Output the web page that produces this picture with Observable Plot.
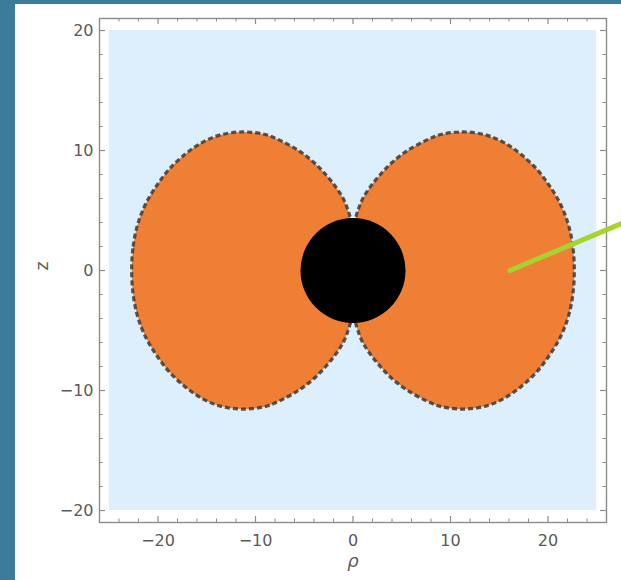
<!DOCTYPE html>
<html>
<head>
<meta charset="utf-8">
<script src="https://cdn.jsdelivr.net/npm/d3@7"></script>
<script src="https://cdn.jsdelivr.net/npm/@observablehq/plot@0.6"></script>
<style>
  html, body { margin: 0; padding: 0; background: #3d7b9a; width: 621px; height: 580px; overflow: hidden; }
  #panel { position: absolute; left: 15px; top: 4px; width: 606px; height: 576px; background: #ffffff; }
</style>
</head>
<body>
<div id="panel"></div>
<script>
// ---- data ----
const rhoDomain = [-26, 26];
const zDomain = [-21, 21];
const plotRangeRho = [-25, 25];
const plotRangeZ = [-20, 20];

const majorTicks = [-20, -10, 0, 10, 20];
const minorTicksRho = [-24, -22, -18, -16, -14, -12, -8, -6, -4, -2, 2, 4, 6, 8, 12, 14, 16, 18, 22, 24];
const minorTicksZ = [-18, -16, -14, -12, -8, -6, -4, -2, 2, 4, 6, 8, 12, 14, 16, 18];

// right lobe boundary (rho, z)
const rightLobe = [
  [22.7, 0], [22.55, 2.0], [22.1, 3.8], [21.3, 5.5], [20.2, 7.0], [18.9, 8.4], [17.2, 9.7],
  [15.4, 10.7], [13.6, 11.3], [11.3, 11.55], [9.1, 11.35], [7.9, 11.0], [5.6, 10.0], [4.0, 9.0],
  [2.8, 8.0], [1.8, 7.0], [1.0, 6.0], [0.5, 5.0], [0.15, 4.0], [-0.3, 2.2], [-0.5, 0],
  [-0.3, -2.2], [0.15, -4.0], [0.5, -5.0], [1.0, -6.0], [1.8, -7.0], [2.8, -8.0], [4.0, -9.0],
  [5.6, -10.0], [7.9, -11.0], [9.1, -11.35], [11.3, -11.55], [13.6, -11.3], [15.4, -10.7],
  [17.2, -9.7], [18.9, -8.4], [20.2, -7.0], [21.3, -5.5], [22.1, -3.8], [22.55, -2.0]
];
// left lobe boundary (rho, z)
const leftLobe = [
  [-22.7, 0], [-22.55, 2.0], [-22.1, 3.8], [-21.3, 5.5], [-20.2, 7.0], [-18.9, 8.4], [-17.2, 9.7],
  [-15.4, 10.7], [-13.6, 11.3], [-11.3, 11.55], [-9.1, 11.35], [-7.9, 11.0], [-5.6, 10.0], [-4.0, 9.0],
  [-2.8, 8.0], [-1.8, 7.0], [-1.0, 6.0], [-0.5, 5.0], [-0.15, 4.0], [0.3, 2.2], [0.5, 0],
  [0.3, -2.2], [-0.15, -4.0], [-0.5, -5.0], [-1.0, -6.0], [-1.8, -7.0], [-2.8, -8.0], [-4.0, -9.0],
  [-5.6, -10.0], [-7.9, -11.0], [-9.1, -11.35], [-11.3, -11.55], [-13.6, -11.3], [-15.4, -10.7],
  [-17.2, -9.7], [-18.9, -8.4], [-20.2, -7.0], [-21.3, -5.5], [-22.1, -3.8], [-22.55, -2.0]
];
const lobes = [rightLobe, leftLobe];
const diskCenter = [[0, 0]];
const pointer = [[16.1, 0], [28.5, 4.25]];

const fmt = d => (d < 0 ? "\u2212" + Math.abs(d) : String(d));
const tickColor = "#8c8c8c";

const chart = Plot.plot({
  width: 606,
  height: 576,
  marginLeft: 84,
  marginRight: 15,
  marginTop: 14,
  marginBottom: 58,
  x: { domain: rhoDomain, label: null },
  y: { domain: zDomain, label: null },
  style: { fontFamily: "DejaVu Sans, sans-serif", fontSize: "16px", background: "white" },
  marks: [
    Plot.rect([{ x1: plotRangeRho[0], x2: plotRangeRho[1], y1: plotRangeZ[0], y2: plotRangeZ[1] }],
      { x1: "x1", x2: "x2", y1: "y1", y2: "y2", fill: "#ddeefc" }),
    ...lobes.map(l => Plot.line(l, { x: d => d[0], y: d => d[1], curve: "catmull-rom-closed", fill: "#ee7f35", stroke: "none" })),
    ...lobes.map(l => Plot.line(l, { x: d => d[0], y: d => d[1], curve: "catmull-rom-closed", stroke: "#3a3a3a", strokeOpacity: 0.85, strokeWidth: 3.2, strokeDasharray: "5,3", strokeLinecap: "butt" })),
    Plot.dot(diskCenter, { x: d => d[0], y: d => d[1], r: 52.5, fill: "black", stroke: "none" }),
    // ticks (inward, all four sides)
    Plot.ruleX(majorTicks, { x: d => d, stroke: tickColor, strokeWidth: 1.2, insetTop: 498 }),
    Plot.ruleX(majorTicks, { x: d => d, stroke: tickColor, strokeWidth: 1.2, insetBottom: 498 }),
    Plot.ruleX(minorTicksRho, { x: d => d, stroke: tickColor, strokeWidth: 1, insetTop: 500.5 }),
    Plot.ruleX(minorTicksRho, { x: d => d, stroke: tickColor, strokeWidth: 1, insetBottom: 500.5 }),
    Plot.ruleY(majorTicks, { y: d => d, stroke: tickColor, strokeWidth: 1.2, insetRight: 501 }),
    Plot.ruleY(majorTicks, { y: d => d, stroke: tickColor, strokeWidth: 1.2, insetLeft: 501 }),
    Plot.ruleY(minorTicksZ, { y: d => d, stroke: tickColor, strokeWidth: 1, insetRight: 503.5 }),
    Plot.ruleY(minorTicksZ, { y: d => d, stroke: tickColor, strokeWidth: 1, insetLeft: 503.5 }),
    Plot.frame({ stroke: tickColor, strokeWidth: 1.4 }),
    Plot.axisX(majorTicks, { anchor: "bottom", tickSize: 0, tickPadding: 12, tickFormat: fmt, color: "#5a5a5a", fontSize: 16, label: null }),
    Plot.axisY(majorTicks, { anchor: "left", tickSize: 0, tickPadding: 6, tickFormat: fmt, color: "#5a5a5a", fontSize: 16, label: null }),
    Plot.text(["\u03c1"], { frameAnchor: "bottom", dy: 44, fill: "#5a5a5a", fontSize: 18, fontStyle: "italic" }),
    Plot.text(["z"], { frameAnchor: "left", dx: -57, rotate: -90, fill: "#5a5a5a", fontSize: 17 }),
    Plot.line(pointer, { x: d => d[0], y: d => d[1], stroke: "#a8d22e", strokeWidth: 5, strokeLinecap: "round" })
  ]
});
document.getElementById("panel").appendChild(chart);
</script>
</body>
</html>
